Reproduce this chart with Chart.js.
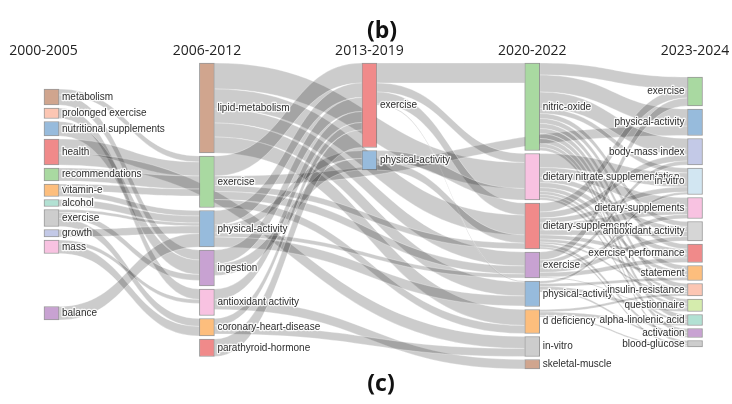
<!DOCTYPE html>
<html>
<head>
<meta charset="utf-8">
<script src="https://cdn.jsdelivr.net/npm/chart.js@4.4.0/dist/chart.umd.min.js"></script>
<style>
  html, body { margin: 0; padding: 0; background: #ffffff; }
  #wrap { position: relative; width: 732px; height: 404px; }
</style>
</head>
<body>
<div id="wrap"><canvas id="sankey" width="732" height="404"></canvas></div>
<script>
// ---- data ---------------------------------------------------------------
const columnTitles = ['2000-2005', '2006-2012', '2013-2019', '2020-2022', '2023-2024'];

const nodeNames = [
  // 2000-2005
  'metabolism', 'prolonged exercise', 'nutritional supplements', 'health', 'recommendations',
  'vitamin-e', 'alcohol', 'exercise', 'growth', 'mass', 'balance',
  // 2006-2012
  'lipid-metabolism', 'exercise', 'physical-activity', 'ingestion', 'antioxidant activity',
  'coronary-heart-disease', 'parathyroid-hormone',
  // 2013-2019
  'exercise', 'physical-activity',
  // 2020-2022
  'nitric-oxide', 'dietary nitrate supplementation', 'dietary-supplements', 'exercise',
  'physical-activity', 'd deficiency', 'in-vitro', 'skeletal-muscle',
  // 2023-2024
  'exercise', 'physical-activity', 'body-mass index', 'in-vitro', 'dietary-supplements',
  'antioxidant activity', 'exercise performance', 'statement', 'insulin-resistance',
  'questionnaire', 'alpha-linolenic acid', 'activation', 'blood-glucose'
];

const nodeColumns = [
  0, 0, 0, 0, 0, 0, 0, 0, 0, 0, 0,
  1, 1, 1, 1, 1, 1, 1,
  2, 2,
  3, 3, 3, 3, 3, 3, 3, 3,
  4, 4, 4, 4, 4, 4, 4, 4, 4, 4, 4, 4, 4
];

const nodeValues = [
  16, 10.5, 14.5, 26, 13, 12.5, 7, 17, 7.5, 13.5, 13.5,
  90, 51.5, 36.5, 36, 26.5, 17.5, 17.5,
  84.5, 19.5,
  87.5, 46.5, 46, 26, 25.5, 24, 20, 9.5,
  29, 26.5, 26.5, 26.5, 21, 19.5, 18.5, 15, 12.5, 12.5, 11, 9, 6.5
];

// flows: source node index -> target node index, weight
const linkSources = [
  0, 0, 1, 2, 3, 3, 4, 5, 5, 6, 7, 7, 7, 8, 9, 9, 10,
  11, 11, 11, 11, 11,
  12, 12, 12, 12, 12,
  13, 13, 13, 13,
  14, 14, 15, 15, 16, 16, 17,
  18, 18, 18, 18, 19, 19,
  20, 20, 20, 20, 20, 20, 20, 20, 20, 20, 20, 20,
  21, 21, 21, 21, 21, 21, 21, 21,
  22, 22, 22, 22, 22, 22, 22, 22, 22, 22,
  23, 23, 23, 23, 23, 23,
  24, 24, 24, 24,
  25, 25, 25
];
const linkTargets = [
  12, 14, 15, 14, 12, 26, 12, 12, 13, 13, 13, 14, 16, 13, 15, 16, 13,
  21, 22, 23, 24, 25,
  18, 29, 22, 23, 25,
  18, 19, 23, 24,
  18, 19, 18, 27, 18, 26, 18,
  20, 21, 22, 24, 21, 22,
  28, 29, 30, 31, 33, 34, 35, 36, 37, 38, 39, 40,
  31, 32, 33, 34, 35, 36, 37, 38,
  28, 30, 31, 32, 33, 34, 35, 36, 39, 40,
  28, 30, 32, 33, 34, 37,
  31, 35, 37, 39,
  36, 38, 40
];
const linkValues = [
  6, 10, 10.5, 14.5, 14, 12, 13, 7, 5.5, 7, 3, 6, 8, 7.5, 4, 9.5, 13.5,
  26, 20, 14, 14, 16,
  20, 9.5, 6, 8, 8,
  14.5, 8, 4, 10,
  14, 11.5, 11, 9.5, 7.5, 8, 17.5,
  20, 9, 12, 1, 11.5, 8,
  12, 17, 16.5, 5, 5, 5, 5, 5, 5, 5, 4, 3,
  14, 10, 5, 5, 4, 3, 3, 2.5,
  9, 6, 5, 7, 5, 4, 3, 2, 3, 2,
  8, 4, 4, 4.5, 4.5, 1,
  2.5, 3, 3.5, 2,
  2.5, 3.5, 1.5
];

// ---- layout & style -----------------------------------------------------
const colX = [0, 0.966, 1.976, 2.988, 4];      // column positions on the x scale
const titleX = [-0.05, 0.966, 1.976, 2.988, 4];
const colTop = [89, 63, 63, 63, 77];           // first node top, in value units
const NODE_GAP = 3;
const extraGapBefore = { 10: 50 };
const NODE_WIDTH = 15;

const nodeColors = [
  '#d0a58e', '#fcc6b3', '#97bbdc', '#f08a8a', '#a9d9a1', '#fdbe7d', '#b2e1d3', '#cdcdcd', '#c3c9e7', '#f8c2e1', '#c8a2d2',
  '#d0a58e', '#a9d9a1', '#97bbdc', '#c8a2d2', '#f8c2e1', '#fdbe7d', '#f08a8a',
  '#f08a8a', '#97bbdc',
  '#a9d9a1', '#f8c2e1', '#f08a8a', '#c8a2d2', '#97bbdc', '#fdbe7d', '#cdcdcd', '#d0a58e',
  '#a9d9a1', '#97bbdc', '#c3c9e7', '#d2e6f2', '#f8c2e1', '#d6d6d6', '#f08a8a', '#fdbe7d', '#fcc6b3', '#d5ecad', '#b2e1d3', '#c8a2d2', '#cdcdcd'
];

// stack nodes inside each column
const nodeTop = [];
const cursor = colTop.slice();
nodeNames.forEach((_, i) => {
  const c = nodeColumns[i];
  cursor[c] += extraGapBefore[i] || 0;
  nodeTop[i] = cursor[c];
  cursor[c] += nodeValues[i] + NODE_GAP;
});
const nodeMid = i => nodeTop[i] + nodeValues[i] / 2;

// stack link ends on their nodes (outgoing by target position, incoming by source position)
const links = linkSources.map((s, k) => ({ s, t: linkTargets[k], v: linkValues[k] }));
nodeNames.forEach((_, i) => {
  let y = nodeTop[i];
  links.filter(l => l.s === i)
    .sort((a, b) => nodeMid(a.t) - nodeMid(b.t) || nodeColumns[a.t] - nodeColumns[b.t])
    .forEach(l => { l.sy = y; y += l.v; });
  y = nodeTop[i];
  links.filter(l => l.t === i)
    .sort((a, b) => nodeMid(a.s) - nodeMid(b.s) || nodeColumns[a.s] - nodeColumns[b.s])
    .forEach(l => { l.ty = y; y += l.v; });
});

// ---- plugins --------------------------------------------------------------
const linkPlugin = {
  id: 'sankeyLinks',
  beforeDatasetsDraw(chart) {
    const { ctx, scales: { x, y } } = chart;
    ctx.save();
    links.forEach(l => {
      const x0 = x.getPixelForValue(colX[nodeColumns[l.s]]) + NODE_WIDTH / 2;
      const x1 = x.getPixelForValue(colX[nodeColumns[l.t]]) - NODE_WIDTH / 2;
      const xm = (x0 + x1) / 2;
      const s0 = y.getPixelForValue(l.sy), s1 = y.getPixelForValue(l.sy + l.v);
      const t0 = y.getPixelForValue(l.ty), t1 = y.getPixelForValue(l.ty + l.v);
      ctx.beginPath();
      ctx.moveTo(x0, s0);
      ctx.bezierCurveTo(xm, s0, xm, t0, x1, t0);
      ctx.lineTo(x1, t1);
      ctx.bezierCurveTo(xm, t1, xm, s1, x0, s1);
      ctx.closePath();
      ctx.fillStyle = 'rgba(0,0,0,0.2)';
      ctx.fill();
      ctx.lineWidth = 0.5;
      ctx.strokeStyle = 'rgba(255,255,255,0.6)';
      ctx.stroke();
    });
    ctx.restore();
  }
};

function haloText(ctx, text, px, py) {
  ctx.lineJoin = 'round';
  ctx.lineWidth = 2.5;
  ctx.strokeStyle = 'rgba(255,255,255,0.85)';
  ctx.strokeText(text, px, py);
  ctx.fillText(text, px, py);
}

const labelPlugin = {
  id: 'sankeyLabels',
  afterDatasetsDraw(chart) {
    const { ctx, scales: { x, y } } = chart;
    ctx.save();
    ctx.font = '10px "Liberation Sans", Arial, sans-serif';
    ctx.fillStyle = '#2e2e2e';
    ctx.textBaseline = 'middle';
    nodeNames.forEach((name, i) => {
      const c = nodeColumns[i];
      const cx = x.getPixelForValue(colX[c]);
      const cy = y.getPixelForValue(nodeMid(i));
      if (c === columnTitles.length - 1) {
        ctx.textAlign = 'right';
        haloText(ctx, name, cx - NODE_WIDTH / 2 - 3, cy);
      } else {
        ctx.textAlign = 'left';
        haloText(ctx, name, cx + NODE_WIDTH / 2 + 3, cy);
      }
    });

    // column headings
    ctx.font = '14px "Open Sans", sans-serif';
    ctx.fillStyle = '#222222';
    ctx.textAlign = 'center';
    columnTitles.forEach((t, c) => {
      ctx.fillText(t, x.getPixelForValue(titleX[c]), 51);
    });

    // panel letters
    ctx.font = 'bold 23px "Open Sans", sans-serif';
    ctx.fillStyle = '#111111';
    ctx.fillText('(b)', 382, 31);
    ctx.fillText('(c)', 381, 384);
    ctx.restore();
  }
};

// ---- chart ----------------------------------------------------------------
new Chart(document.getElementById('sankey'), {
  type: 'bar',
  data: {
    datasets: [{
      data: nodeNames.map((_, i) => ({
        x: colX[nodeColumns[i]],
        y: [nodeTop[i], nodeTop[i] + nodeValues[i]]
      })),
      backgroundColor: nodeColors,
      borderColor: 'rgba(70,70,70,0.55)',
      borderWidth: 1,
      borderSkipped: false,
      barThickness: NODE_WIDTH,
      grouped: false
    }]
  },
  options: {
    responsive: false,
    animation: false,
    devicePixelRatio: 1,
    events: [],
    layout: { padding: 0 },
    plugins: { legend: { display: false }, tooltip: { enabled: false } },
    scales: {
      x: { type: 'linear', min: -0.3201, max: 4.2299, offset: false, display: false },
      y: { type: 'linear', min: 0, max: 404, reverse: true, offset: false, display: false }
    }
  },
  plugins: [linkPlugin, labelPlugin]
});
</script>
</body>
</html>
